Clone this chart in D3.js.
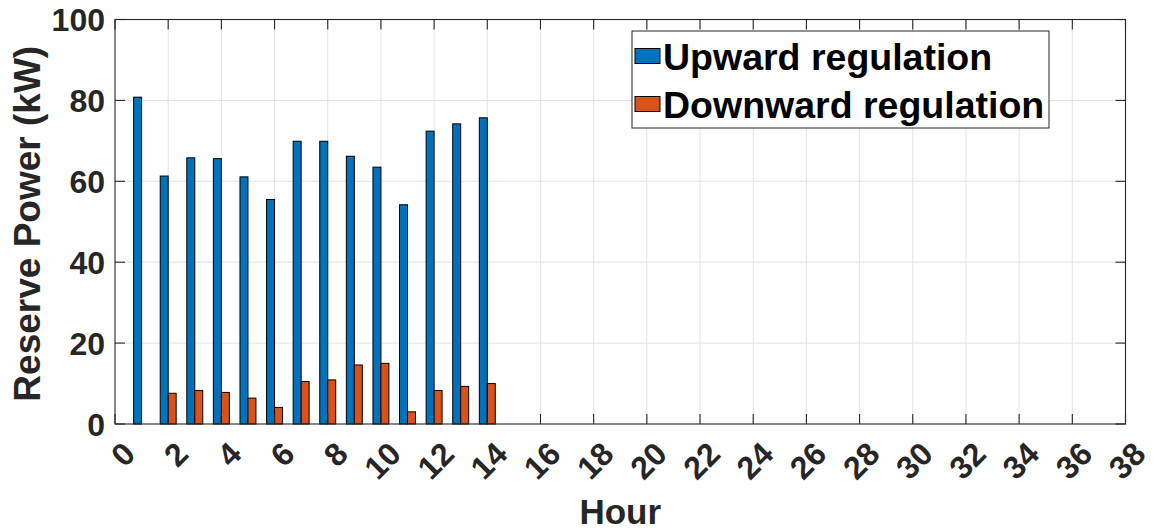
<!DOCTYPE html>
<html>
<head>
<meta charset="utf-8">
<script src="https://cdn.jsdelivr.net/npm/d3@7"></script>
<style>
  html, body { margin: 0; padding: 0; background: #fff; }
  svg { display: block; font-family: "Liberation Sans", Arial, Helvetica, sans-serif; font-weight: bold; }
</style>
</head>
<body>
<svg id="chart" width="1154" height="532"></svg>
<script>
// Hourly reserve power offered for regulation
const hours = [1, 2, 3, 4, 5, 6, 7, 8, 9, 10, 11, 12, 13, 14];
const upward = [80.8, 61.3, 65.8, 65.6, 61.1, 55.5, 69.9, 69.9, 66.2, 63.5, 54.2, 72.4, 74.2, 75.7];
const downward = [0, 7.6, 8.3, 7.8, 6.4, 4.1, 10.5, 10.9, 14.6, 15.0, 3.0, 8.3, 9.3, 10.0];
const seriesNames = ["Upward regulation", "Downward regulation"];
const xTicks = d3.range(0, 39, 2);
const yTicks = [0, 20, 40, 60, 80, 100];

const colors = ["#0072BD", "#D95319"];
const axisColor = "#262626";
const gridColor = "#e3e3e3";

const svg = d3.select("#chart");
const L = 115, R = 1125.5, T = 19.5, B = 424;

const x = d3.scaleLinear().domain([0, 38]).range([L, R]);
const y = d3.scaleLinear().domain([0, 100]).range([B, T]);
const barW = 0.3; // width of one bar, in hours

// grid
const grid = svg.append("g");
grid.selectAll("line.gx").data(xTicks.filter(d => d > 0 && d < 38)).join("line")
  .attr("x1", d => x(d)).attr("x2", d => x(d)).attr("y1", T).attr("y2", B)
  .attr("stroke", gridColor).attr("stroke-width", 1);
grid.selectAll("line.gy").data(yTicks.filter(d => d > 0 && d < 100)).join("line")
  .attr("x1", L).attr("x2", R).attr("y1", d => y(d)).attr("y2", d => y(d))
  .attr("stroke", gridColor).attr("stroke-width", 1);

// bars
const bars = svg.append("g");
const groups = [upward, downward];
groups.forEach((vals, si) => {
  bars.selectAll("rect.s" + si).data(hours.map((h, i) => ({ h, v: vals[i] }))).join("rect")
    .attr("x", d => si === 0 ? x(d.h - barW) : x(d.h))
    .attr("width", x(barW) - x(0))
    .attr("y", d => y(d.v))
    .attr("height", d => y(0) - y(d.v))
    .attr("fill", colors[si])
    .attr("stroke", "#000").attr("stroke-width", 1);
});

// axes with inward ticks, boxed on all sides
const tickLen = 10;
const axesG = svg.append("g").attr("stroke", axisColor).attr("stroke-width", 1.1);
xTicks.forEach(d => {
  axesG.append("line").attr("x1", x(d)).attr("x2", x(d)).attr("y1", B).attr("y2", B - tickLen);
  axesG.append("line").attr("x1", x(d)).attr("x2", x(d)).attr("y1", T).attr("y2", T + tickLen);
});
yTicks.forEach(d => {
  axesG.append("line").attr("x1", L).attr("x2", L + tickLen).attr("y1", y(d)).attr("y2", y(d));
  axesG.append("line").attr("x1", R).attr("x2", R - tickLen).attr("y1", y(d)).attr("y2", y(d));
});
axesG.append("rect").attr("x", L).attr("y", T).attr("width", R - L).attr("height", B - T)
  .attr("fill", "none");

// tick labels
svg.append("g").selectAll("text").data(xTicks).join("text")
  .attr("transform", d => `translate(${x(d) + 22},${B + 32}) rotate(-45)`)
  .attr("text-anchor", "end")
  .attr("font-size", 32).attr("fill", axisColor)
  .text(d => d);

svg.append("g").selectAll("text").data(yTicks).join("text")
  .attr("x", L - 10).attr("y", d => y(d)).attr("dy", "0.36em")
  .attr("text-anchor", "end")
  .attr("font-size", 32).attr("fill", axisColor)
  .text(d => d);

// axis titles
svg.append("text")
  .attr("transform", `translate(${40},${(T + B) / 2 + 2}) rotate(-90)`)
  .attr("text-anchor", "middle").attr("font-size", 37).attr("fill", axisColor)
  .text("Reserve Power (kW)");

svg.append("text")
  .attr("x", (L + R) / 2).attr("y", 524)
  .attr("text-anchor", "middle").attr("font-size", 35).attr("fill", axisColor)
  .text("Hour");

// legend
const lg = svg.append("g").attr("transform", "translate(632,31)");
lg.append("rect").attr("width", 417).attr("height", 97)
  .attr("fill", "#fff").attr("stroke", "#262626").attr("stroke-width", 1);
seriesNames.forEach((name, i) => {
  const row = lg.append("g").attr("transform", `translate(0,${i * 48})`);
  row.append("rect").attr("x", 3).attr("y", 17.5).attr("width", 25).attr("height", 15)
    .attr("fill", colors[i]).attr("stroke", "#000").attr("stroke-width", 1);
  row.append("text").attr("x", 31).attr("y", 39)
    .attr("font-size", 37.5).attr("fill", "#000").text(name);
});
</script>
</body>
</html>
